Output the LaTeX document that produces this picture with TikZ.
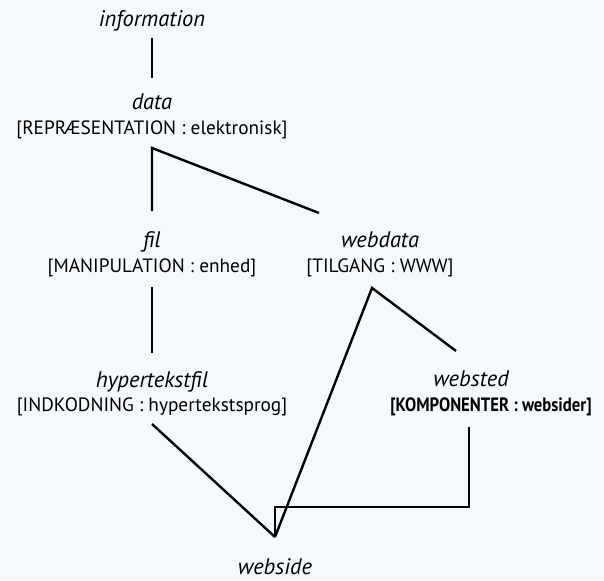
\documentclass[tikz,border=0pt]{standalone}
\usepackage{fontspec}
\setmainfont{PT Sans}
\definecolor{paper}{RGB}{246,249,252}
\begin{document}
\begin{tikzpicture}[x=1pt,y=-1pt,
  every node/.style={inner sep=0pt,outer sep=0pt,anchor=base,font=\fontsize{19.3}{23}\selectfont},
  concept/.style={font=\fontsize{22.5}{26}\selectfont\itshape},
  facet/.style={},
  boldfacet/.style={font=\fontsize{19.3}{23}\selectfont\bfseries\addfontfeature{FakeStretch=0.865}},
  link/.style={line width=2.4pt}]
  \fill[paper] (0,0) rectangle (604,580);
  \useasboundingbox (0,0) rectangle (604,580);

  % concepts and their characteristics
  \node[concept] (info) at (152,27) {information};
  \node[concept] (data) at (152,110) {data};
  \node[facet] (dataA) at (152,135) {[REPRÆSENTATION : elektronisk]};
  \node[concept] (fil) at (152,247) {fil};
  \node[facet] (filA) at (152,272) {[MANIPULATION : enhed]};
  \node[concept] (webdata) at (380,247) {webdata};
  \node[facet] (webdataA) at (380,272) {[TILGANG : WWW]};
  \node[concept] (hyp) at (152,387) {hypertekstfil};
  \node[facet] (hypA) at (152,411) {[INDKODNING : hypertekstsprog]};
  \node[concept] (websted) at (471,386) {websted};
  \node[boldfacet] (webstedA) at (491,411) {[KOMPONENTER : websider]};
  \node[concept] (webside) at (275,574) {webside};

  % relations
  \draw[link] ([yshift=-11pt]info.base) -- ([yshift=32pt]data.base);
  \draw[link] ([xshift=-61pt,yshift=34pt]webdata.base) -- ([yshift=-13pt]dataA.base)
              -- ([yshift=36pt]fil.base);
  \draw[link] ([yshift=-15pt]filA.base) -- ([yshift=34pt]hyp.base);
  \draw[link] ([xshift=-15pt,yshift=35pt]websted.base) -- ([xshift=-8pt,yshift=-16pt]webdataA.base)
              -- ([yshift=37pt]webside.base);
  \draw[link] ([yshift=-13pt]hypA.base) -- ([yshift=37pt]webside.base);
  \draw[link] ([xshift=-2pt,yshift=-41pt]websted.base) |- ([yshift=67pt]webside.base)
              -- ([yshift=37pt]webside.base);
\end{tikzpicture}
\end{document}
